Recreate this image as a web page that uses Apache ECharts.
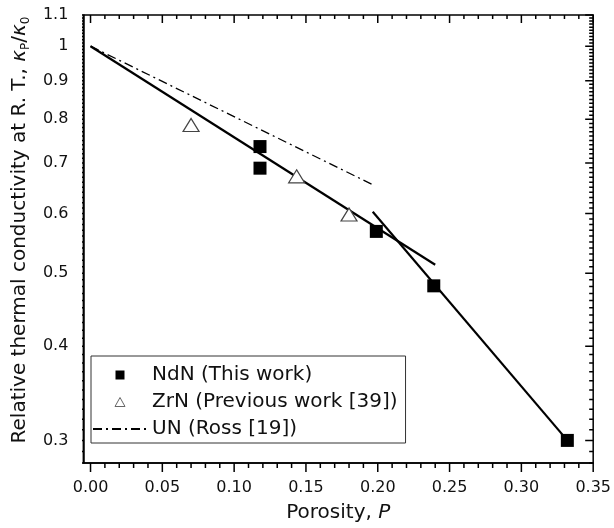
<!DOCTYPE html>
<html>
<head>
<meta charset="UTF-8">
<title>Relative thermal conductivity vs porosity</title>
<script src="https://cdn.jsdelivr.net/npm/echarts@6/dist/echarts.min.js"></script>
<style>
html,body{margin:0;background:#fff;}
#chart{width:614px;height:528px;}
</style>
</head>
<body>
<div id="chart"></div>
<script>

// NdN (this work)
const ndnP=[0.118,0.118,0.199,0.239,0.332]
const ndnK=[0.736,0.689,0.568,0.481,0.300]

// ZrN (previous work)
const zrnP=[0.070,0.1435,0.180]
const zrnK=[0.786,0.672,0.598]

// fitted lines through NdN
const fitLowP=[0,0.240]
const fitLowK=[1.0,0.513]
const fitHighP=[0.1965,0.332]
const fitHighK=[0.603,0.300]

// UN (Ross)
const unP=[0,0.198]
const unK=[1.0,0.653]

const xMajor=[0,0.05,0.10,0.15,0.20,0.25,0.30,0.35]
const xLabels=['0.00','0.05','0.10','0.15','0.20','0.25','0.30','0.35']
const yMajor=[0.3,0.4,0.5,0.6,0.7,0.8,0.9,1,1.1]
const yLabels=['0.3','0.4','0.5','0.6','0.7','0.8','0.9','1','1.1']

const legendNames=['NdN (This work)','ZrN (Previous work [39])','UN (Ross [19])']

const xMin=-0.005, xMax=0.35
const yMin=0.28, yMax=1.1

const lg=v=>Math.log10(v)

// minor ticks every 0.01
const xMinor=[]
for(let i=0;i<=35;i++) xMinor.push(i/100)
const yMinor=[]
for(let i=28;i<=110;i++) yMinor.push(i/100)

const font="DejaVu Sans"
const ink="#111"

function pairs(xs,ys){
 return xs.map((x,i)=>[x,lg(ys[i])])
}

function isIn(list,v){
 return list.some(t=>Math.abs(t-v)<1e-9)
}

const yMajorLog=yMajor.map(lg)

const chart=echarts.init(document.getElementById("chart"),null,{renderer:"canvas"})

const option={
 animation:false,
 backgroundColor:"#fff",
 grid:{left:81,right:15,top:15,bottom:64,containLabel:false,
  show:true,borderColor:"#000",borderWidth:1.5,backgroundColor:"transparent"},
 xAxis:{
  type:"value",min:xMin,max:xMax,
  splitLine:{show:false},
  axisLine:{show:true,onZero:false,lineStyle:{color:"#000",width:1.5}},
  axisTick:{show:false},
  axisLabel:{customValues:xMajor,margin:17,
   formatter:v=>xLabels[xMajor.findIndex(t=>Math.abs(t-v)<1e-9)],
   fontFamily:font,fontSize:16,color:ink},
  name:"Porosity, {i|P}",nameLocation:"middle",nameGap:40,
  nameTextStyle:{fontFamily:font,fontSize:20,color:ink,
   rich:{i:{fontFamily:font,fontSize:20,fontStyle:"italic",color:ink}}}
 },
 yAxis:{
  type:"value",min:lg(yMin),max:lg(yMax),
  splitLine:{show:false},
  axisLine:{show:true,onZero:false,lineStyle:{color:"#000",width:1.5}},
  axisTick:{show:false},
  axisLabel:{customValues:yMajorLog,margin:15,
   formatter:v=>yLabels[yMajorLog.findIndex(t=>Math.abs(t-v)<1e-9)],
   fontFamily:font,fontSize:16,color:ink},
  name:"Relative thermal conductivity at R. T., {k|κ}{s|P}{n|/}{k|κ}{s|0}",
  nameLocation:"middle",nameGap:46,
  nameTextStyle:{fontFamily:font,fontSize:20,color:ink,lineHeight:24,padding:[0,0,0,18],
   rich:{
    k:{fontFamily:font,fontSize:20,fontStyle:"italic",color:ink,lineHeight:24},
    n:{fontFamily:font,fontSize:20,color:ink,lineHeight:24},
    s:{fontFamily:font,fontSize:12,color:ink,verticalAlign:"bottom",lineHeight:14}
   }}
 },
 legend:{
  orient:"vertical",left:91,top:356,
  data:[
   {name:legendNames[0],icon:"path://M0,0H10V10H0Z"},
   {name:legendNames[1],icon:"path://M5,0L10,9L0,9Z",itemStyle:{borderWidth:1,borderColor:"#666"}},
   {name:legendNames[2],itemStyle:{opacity:0}}
  ],
  itemWidth:54,itemHeight:9,itemGap:5,
  padding:[8,8,3,1],
  borderColor:"#333",borderWidth:1,
  textStyle:{fontFamily:font,fontSize:20,color:ink,lineHeight:22}
 },
 series:[
  {
   type:"line",name:"fitLow",data:pairs(fitLowP,fitLowK),
   symbol:"none",silent:true,
   lineStyle:{color:"#000",width:2.2}
  },
  {
   type:"line",name:"fitHigh",data:pairs(fitHighP,fitHighK),
   symbol:"none",silent:true,
   lineStyle:{color:"#000",width:2.2}
  },
  {
   type:"line",name:legendNames[2],data:pairs(unP,unK),
   symbol:"none",showSymbol:false,
   itemStyle:{color:"#000"},
   lineStyle:{color:"#000",width:1.3,type:[9,4,2,4]}
  },
  {
   type:"scatter",name:legendNames[0],data:pairs(ndnP,ndnK),
   symbol:"rect",symbolSize:13,z:5,
   itemStyle:{color:"#000",opacity:1}
  },
  {
   type:"scatter",name:legendNames[1],data:pairs(zrnP,zrnK),
   symbol:"triangle",symbolSize:[16,13],z:5,
   itemStyle:{color:"#fff",borderColor:"#444",borderWidth:1.2,opacity:1}
  }
 ]
}

chart.setOption(option)

// tick marks on all four sides: each one is a short segment whose
// outer end is found by going a few pixels away through the grid's scales
const toPx=p=>chart.convertToPixel({gridIndex:0},p)
const fromPx=p=>chart.convertFromPixel({gridIndex:0},p)

const tickData=[]
function seg(a,b){
 tickData.push(a,b,["-","-"])
}

xMinor.forEach(v=>{
 const major=isIn(xMajor,v)
 const b=toPx([v,lg(yMin)])
 seg([v,lg(yMin)],[v,fromPx([b[0],b[1]+(major?9:5)])[1]])
 const t=toPx([v,lg(yMax)])
 seg([v,lg(yMax)],[v,fromPx([t[0],t[1]+(major?8:4)])[1]])
})

yMinor.forEach(k=>{
 const v=lg(k)
 const major=isIn(yMajorLog,v)
 const l=toPx([xMin,v])
 seg([xMin,v],[fromPx([l[0]-(major?9:5),l[1]])[0],v])
 const r=toPx([xMax,v])
 seg([xMax,v],[fromPx([r[0]-(major?8:4),r[1]])[0],v])
})

option.series.push({
 type:"line",name:"ticks",data:tickData,
 symbol:"none",showSymbol:false,silent:true,clip:false,connectNulls:false,z:10,
 lineStyle:{color:"#000",width:1.5}
})

chart.setOption(option)

</script>
</body>
</html>
